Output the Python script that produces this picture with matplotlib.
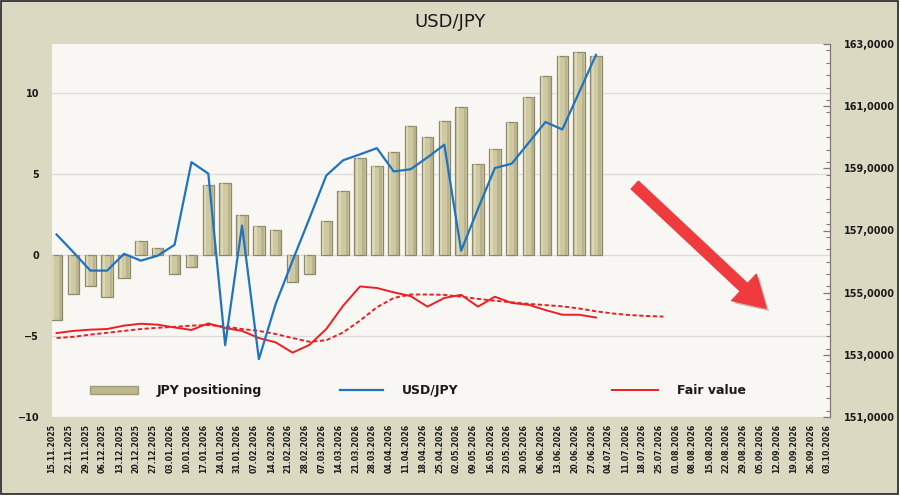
import matplotlib
matplotlib.use('Agg')
import matplotlib.pyplot as plt
import matplotlib.patheffects as pe
from matplotlib.ticker import MultipleLocator, FuncFormatter
from matplotlib.patches import Rectangle, Patch
from matplotlib.lines import Line2D
import numpy as np

dates = [
    "15.11.2025", "22.11.2025", "29.11.2025", "06.12.2025", "13.12.2025", "20.12.2025",
    "27.12.2025", "03.01.2026", "10.01.2026", "17.01.2026", "24.01.2026", "31.01.2026",
    "07.02.2026", "14.02.2026", "21.02.2026", "28.02.2026", "07.03.2026", "14.03.2026",
    "21.03.2026", "28.03.2026", "04.04.2026", "11.04.2026", "18.04.2026", "25.04.2026",
    "02.05.2026", "09.05.2026", "16.05.2026", "23.05.2026", "30.05.2026", "06.06.2026",
    "13.06.2026", "20.06.2026", "27.06.2026", "04.07.2026", "11.07.2026", "18.07.2026",
    "25.07.2026", "01.08.2026", "08.08.2026", "15.08.2026", "22.08.2026", "29.08.2026",
    "05.09.2026", "12.09.2026", "19.09.2026", "26.09.2026", "03.10.2026",
]

# JPY positioning (left axis)
positioning = [
    -4.0, -2.4, -1.9, -2.6, -1.45, 0.85, 0.45, -1.2, -0.75, 4.33, 4.4, 2.44,
    1.76, 1.55, -1.7, -1.2, 2.07, 3.92, 5.94, 5.46, 6.35, 7.93, 7.25, 8.24,
    9.12, 5.57, 6.55, 8.2, 9.74, 11.0, 12.25, 12.5, 12.25,
]

# USD/JPY spot (right axis)
usdjpy = [
    156.87, 156.30, 155.71, 155.71, 156.25, 156.03, 156.19, 156.54, 159.20, 158.83,
    153.31, 157.16, 152.86, 154.64, 156.03, 157.39, 158.77, 159.26, 159.45, 159.65,
    158.90, 158.97, 159.35, 159.76, 156.35, 157.70, 159.01, 159.15, 159.82, 160.49,
    160.25, 161.45, 162.65,
]

# fair value (right axis) and its smoothed projection (dashed)
fair_value = [
    153.70, 153.77, 153.81, 153.83, 153.94, 154.00, 153.97, 153.88, 153.80, 154.01,
    153.86, 153.77, 153.54, 153.40, 153.07, 153.32, 153.83, 154.58, 155.20, 155.15,
    155.01, 154.89, 154.55, 154.83, 154.93, 154.55, 154.87, 154.67, 154.61, 154.44,
    154.29, 154.29, 154.20,
]
fair_value_smooth = [
    153.54, 153.58, 153.65, 153.71, 153.77, 153.83, 153.87, 153.90, 153.94, 153.96,
    153.91, 153.83, 153.77, 153.67, 153.54, 153.42, 153.47, 153.72, 154.10, 154.53,
    154.83, 154.94, 154.94, 154.93, 154.87, 154.80, 154.74, 154.69, 154.64, 154.60,
    154.56, 154.49, 154.40, 154.33, 154.28, 154.25, 154.23,
]

FIG_BG = '#dcd9c3'
PLOT_BG = '#f8f7f3'
BAR_FACE = '#cfc9a1'
BAR_EDGE = '#8d8867'
BLUE = '#1f74c2'
RED = '#ec1f24'
TEXT = '#1a1a1a'
LABEL_SHIFT = 0.27  # category labels sit slightly left of the marks

fig = plt.figure(figsize=(9, 4.97), dpi=100)
fig.patch.set_facecolor('white')
fig.patches.append(Rectangle((0.001, 3 / 497), 0.997, 1 - 3 / 497 - 0.002,
                             transform=fig.transFigure, facecolor=FIG_BG,
                             edgecolor='#222222', linewidth=1.2, zorder=-10))

ax = fig.add_axes([51.7 / 900, 1 - 417 / 497, (830 - 51.7) / 900, (417 - 44) / 497])
ax.set_facecolor(PLOT_BG)
ax2 = ax.twinx()

x = np.arange(len(dates))
xb = x[:len(positioning)]

# bars with a simple bevel look
ax.bar(xb, positioning, width=0.68, color=BAR_FACE, edgecolor=BAR_EDGE, linewidth=0.9, zorder=2)
ax.bar(xb + 0.22, positioning, width=0.16, color='#aaa47f', linewidth=0, alpha=0.55, zorder=3)
ax.bar(xb - 0.2, positioning, width=0.12, color='#e6e2c6', linewidth=0, alpha=0.6, zorder=3)

ax.set_ylim(-10, 13)
ax.set_yticks([-10, -5, 0, 5, 10])
ax.grid(axis='y', color='#dcdcdc', linewidth=0.9)
ax.set_axisbelow(True)
ax.set_xlim(-LABEL_SHIFT - 0.02, 45.88)
ax.set_xticks(x - LABEL_SHIFT)
ax.set_xticklabels(dates, rotation=90, fontsize=5.6, fontweight='bold', color=TEXT)
ax.tick_params(axis='x', length=0, pad=5)
ax.tick_params(axis='y', length=0, pad=9, labelsize=7, labelcolor=TEXT)
for lbl in ax.get_yticklabels():
    lbl.set_fontweight('bold')
for s in ['left', 'top', 'bottom', 'right']:
    ax.spines[s].set_visible(False)

# lines on the right axis
ax2.plot(x[:len(usdjpy)], usdjpy, color=BLUE, linewidth=1.6, zorder=5)
ax2.plot(x[:len(fair_value)], fair_value, color=RED, linewidth=1.4, zorder=4)
ax2.plot(x[:len(fair_value_smooth)], fair_value_smooth, color=RED, linewidth=1.4,
         linestyle=(0, (2.2, 1.3)), zorder=4)

ax2.set_ylim(151, 163)
ax2.set_yticks(np.arange(151, 164, 2))
ax2.yaxis.set_minor_locator(MultipleLocator(0.4))
ax2.yaxis.set_major_formatter(FuncFormatter(lambda v, p: f'{v:.4f}'.replace('.', ',')))
ax2.tick_params(axis='y', which='major', direction='in', length=5, width=0.9,
                color='#8a7474', pad=10, labelsize=7, labelcolor=TEXT)
ax2.tick_params(axis='y', which='minor', direction='in', length=3, width=0.8, color='#8a7474')
for lbl in ax2.get_yticklabels():
    lbl.set_fontweight('bold')
for s in ['left', 'top', 'bottom']:
    ax2.spines[s].set_visible(False)
ax2.spines['right'].set_color('#8a7474')
ax2.spines['right'].set_linewidth(0.9)

# big red arrow
ax.annotate('', xy=(42.1, -3.3), xytext=(34.3, 4.3),
            arrowprops=dict(arrowstyle='simple,head_length=1.1,head_width=1.3,tail_width=0.38',
                            mutation_scale=20, color='#ef3b3e', shrinkA=0, shrinkB=0,
                            path_effects=[pe.withSimplePatchShadow(offset=(2, -2), alpha=0.25)]),
            zorder=6)

# legend entries placed individually
legend_font = dict(size=9, weight='bold')
entries = [
    (Patch(facecolor='#bdb78e', edgecolor='#a19c78'), 'JPY positioning', 0.049, 3.84),
    (Line2D([], [], color=BLUE, linewidth=1.6), 'USD/JPY', 0.371, 3.44),
    (Line2D([], [], color=RED, linewidth=1.4), 'Fair value', 0.720, 3.7),
]
for handle, label, xpos, hlen in entries:
    leg = ax.legend([handle], [label], loc='center left', bbox_to_anchor=(xpos, 0.07),
                    frameon=False, prop=legend_font, handlelength=hlen, handletextpad=1.5,
                    borderpad=0, borderaxespad=0)
    for t in leg.get_texts():
        t.set_color(TEXT)
    ax.add_artist(leg)
ax.legend_ = None

fig.text(0.5, 1 - 22 / 497, 'USD/JPY', ha='center', va='center', fontsize=13, color=TEXT)

fig.savefig('out.png', dpi=100, facecolor=fig.get_facecolor())
